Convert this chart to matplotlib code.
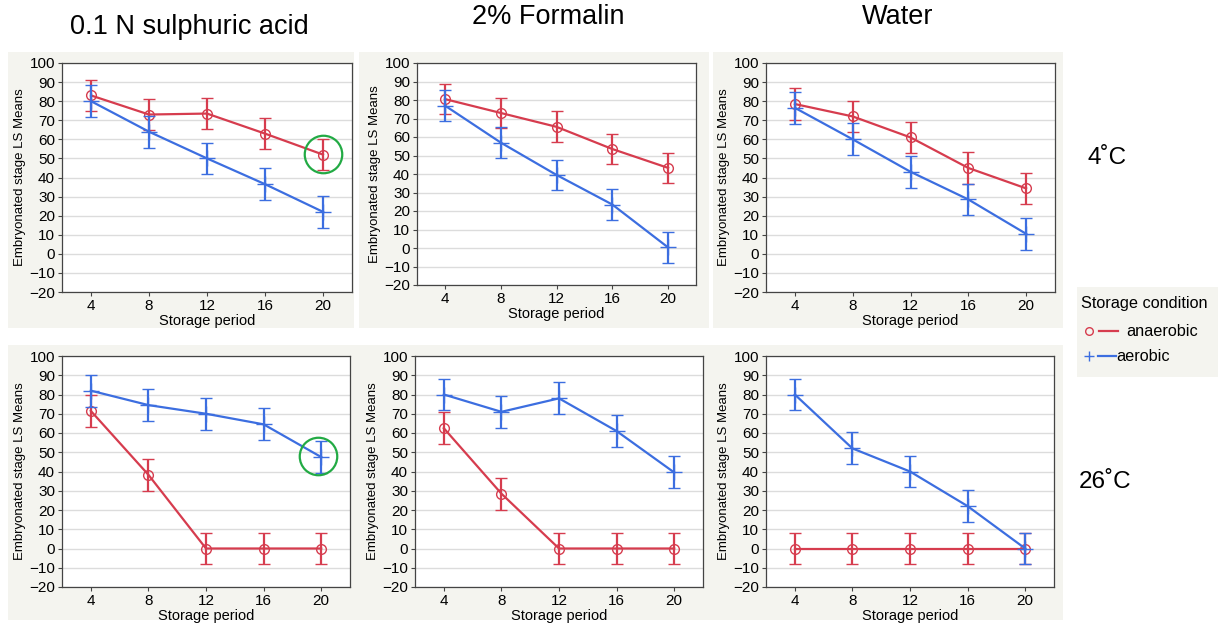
import numpy as np
import matplotlib.pyplot as plt
from matplotlib.patches import Rectangle

plt.rcParams['font.family'] = ['Liberation Sans', 'DejaVu Sans']

W, H = 1219, 623

weeks = [4, 8, 12, 16, 20]
err = 8.3

# top row: 4 C ; bottom row: 26 C
acid_4_anaer = [83, 73, 73.5, 63, 52]
acid_4_aer = [80, 64, 50, 36.5, 22]
form_4_anaer = [80.5, 73, 65.5, 53.5, 43.3]
form_4_aer = [77, 57, 39.5, 23.5, 0.3]
water_4_anaer = [78.5, 72, 61, 45, 34.3]
water_4_aer = [76.5, 60, 43, 28.5, 10.5]

acid_26_anaer = [71.5, 38.3, 0, 0, 0]
acid_26_aer = [82, 74.5, 70, 64.5, 47.5]
form_26_anaer = [62.5, 28.5, 0, 0, 0]
form_26_aer = [80, 71, 78, 61, 39.5]
water_26_anaer = [0, 0, 0, 0, 0]
water_26_aer = [80, 52, 40, 22, 0]

col_titles = ["0.1 N sulphuric acid", "2% Formalin", "Water"]
row_titles = ["4˚C", "26˚C"]

RED = "#d63c4e"
BLUE = "#3c6ee0"
GREEN = "#22aa44"
BG = "#f4f4ef"

fig = plt.figure(figsize=(W / 100, H / 100), dpi=100)


def px_rect(x0, y0, x1, y1):
    return [x0 / W, 1 - y1 / H, (x1 - x0) / W, (y1 - y0) / H]


# panel backgrounds
for (x0, y0, x1, y1) in [(8, 52, 354, 328), (359, 52, 709, 328), (713, 52, 1063, 328),
                         (8, 345, 1063, 620), (1077, 287, 1218, 377)]:
    fig.patches.append(Rectangle((x0 / W, 1 - y1 / H), (x1 - x0) / W, (y1 - y0) / H,
                                 transform=fig.transFigure, facecolor=BG, edgecolor="none", zorder=-1))

panels = [
    ((62, 63, 352, 292), acid_4_anaer, acid_4_aer, (20, 52.5)),
    ((417, 63, 696, 285), form_4_anaer, form_4_aer, None),
    ((766, 63, 1055, 292), water_4_anaer, water_4_aer, None),
    ((62, 356, 350, 587), acid_26_anaer, acid_26_aer, (19.8, 48)),
    ((415, 356, 703, 587), form_26_anaer, form_26_aer, None),
    ((766, 356, 1054, 587), water_26_anaer, water_26_aer, None),
]

for rect, anaer, aer, circ in panels:
    ax = fig.add_axes(px_rect(*rect))
    ax.set_facecolor("white")
    ax.set_xlim(2, 22)
    ax.set_ylim(-20, 100)
    ax.set_yticks(np.arange(-20, 101, 10))
    ax.set_xticks(weeks)
    ax.grid(axis="y", color="#dcdcdc", lw=1)
    ax.set_axisbelow(True)
    for s in ax.spines.values():
        s.set_color("#444444")
        s.set_linewidth(0.9)
    ax.tick_params(labelsize=11, length=3, color="#444444", pad=2)
    ax.set_xlabel("Storage period", fontsize=10.5, labelpad=1)
    ax.set_ylabel("Embryonated stage LS Means", fontsize=9.5, labelpad=2)

    ax.errorbar(weeks, anaer, yerr=err, color=RED, lw=1.6, capsize=4, capthick=1.6,
                elinewidth=1.6, marker="o", ms=7, mfc="none", mec=RED, mew=1, zorder=3)
    ax.errorbar(weeks, aer, yerr=err, color=BLUE, lw=1.6, capsize=4, capthick=1.6,
                elinewidth=1.6, marker="+", ms=11, mec=BLUE, mew=1, zorder=4)
    if circ is not None:
        ax.plot([circ[0]], [circ[1]], marker="o", ms=27, mfc="none", mec=GREEN, mew=1.6,
                zorder=5, clip_on=False)

# column titles
fig.text(189 / W, 1 - 27 / H, col_titles[0], fontsize=19.5, ha="center", va="center")
fig.text(548 / W, 1 - 17 / H, col_titles[1], fontsize=19.5, ha="center", va="center")
fig.text(898 / W, 1 - 17 / H, col_titles[2], fontsize=19.5, ha="center", va="center")

# row titles
fig.text(1107 / W, 1 - 158 / H, row_titles[0], fontsize=17.5, ha="center", va="center")
fig.text(1105 / W, 1 - 482 / H, row_titles[1], fontsize=17.5, ha="center", va="center")

# legend
fig.text(1081 / W, 1 - 303 / H, "Storage condition", fontsize=11.7, ha="left", va="center")
leg_ax = fig.add_axes(px_rect(1077, 315, 1218, 370))
leg_ax.set_xlim(1077, 1218)
leg_ax.set_ylim(370, 315)
leg_ax.axis("off")
leg_ax.plot([1089], [331], marker="o", ms=5.5, mfc="none", mec=RED, mew=1)
leg_ax.plot([1099, 1118], [331, 331], color=RED, lw=1.6)
leg_ax.text(1126, 331, "anaerobic", fontsize=11.7, va="center")
leg_ax.plot([1089], [356], marker="+", ms=7, mec=BLUE, mew=1)
leg_ax.plot([1098, 1116], [356, 356], color=BLUE, lw=1.6)
leg_ax.text(1116, 356, "aerobic", fontsize=11.7, va="center")

fig.savefig("out.png", dpi=100)
